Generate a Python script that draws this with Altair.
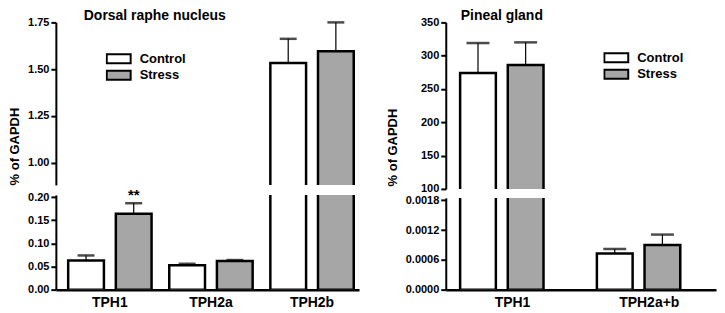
import altair as alt
import pandas as pd

FONT = "Liberation Sans"

# ---- data ----
groups = ["Control", "Stress"]
group_colors = ["white", "#a6a6a6"]

# Dorsal raphe nucleus
drn_genes = ["TPH1", "TPH2a", "TPH2b"]
drn_control = [0.063, 0.053, 1.533]
drn_control_err = [0.011, 0.003, 0.129]
drn_stress = [0.164, 0.062, 1.595]
drn_stress_err = [0.023, 0.002, 0.155]
drn_stress_sig = ["**", "", ""]

# Pineal gland
pin_genes = ["TPH1", "TPH2a+b"]
pin_control = [274, 0.00073]
pin_control_err = [45, 0.00009]
pin_stress = [286, 0.00090]
pin_stress_err = [34, 0.00021]
pin_stress_sig = ["", ""]

# axis breaks / ticks
drn_upper_ticks = [1.00, 1.25, 1.50, 1.75]
drn_lower_ticks = [0.00, 0.05, 0.10, 0.15, 0.20]
pin_upper_ticks = [100, 150, 200, 250, 300, 350]
pin_lower_ticks = [0.0, 0.0006, 0.0012, 0.0018]


def build(genes, c, ce, s, se, sig):
    rows = []
    for i, g in enumerate(genes):
        rows.append(dict(gene=g, group="Control", mean=c[i], top=c[i] + ce[i], sig=""))
        rows.append(dict(gene=g, group="Stress", mean=s[i], top=s[i] + se[i], sig=sig[i]))
    return pd.DataFrame(rows)


drn = build(drn_genes, drn_control, drn_control_err, drn_stress, drn_stress_err, drn_stress_sig)
pin = build(pin_genes, pin_control, pin_control_err, pin_stress, pin_stress_err, pin_stress_sig)


def segment(df, genes, lo, hi, ticks, fmt, w, h, cap, xpi, xpo, xal, opi, lower,
            ytitle=None, tx=0, ty=0, legend=None, title=None, title_dx=0, title_y=-13):
    if lower:
        xaxis = alt.Axis(title=None, labelAngle=0, ticks=False, labelPadding=6,
                         labelFontSize=14, labelFontWeight="bold", labelColor="black",
                         labelFont=FONT, domainColor="black", domainWidth=2.5)
    else:
        xaxis = None
    x = alt.X("gene:N", sort=genes, axis=xaxis,
              scale=alt.Scale(paddingInner=xpi, paddingOuter=xpo, align=xal))
    xo = alt.XOffset("group:N", sort=groups,
                     scale=alt.Scale(paddingInner=opi, paddingOuter=0))
    yscale = alt.Scale(domain=[lo, hi], zero=False, nice=False)
    ak = dict(values=ticks, format=fmt, grid=False, tickSize=5, tickWidth=2,
              tickColor="black", domainColor="black", domainWidth=2, labelPadding=2,
              labelFontSize=11, labelFontWeight="bold", labelColor="black", labelFont=FONT)
    if ytitle:
        ak.update(title=ytitle, titleX=tx, titleY=ty, titleAngle=270, titleAlign="center",
                  titleBaseline="middle", titleFontSize=13, titleFontWeight="bold",
                  titleFont=FONT, titleColor="black")
    else:
        ak.update(title=None)
    yaxis = alt.Axis(**ak)

    fill = alt.Fill("group:N", sort=groups,
                    scale=alt.Scale(domain=groups, range=group_colors), legend=legend)
    bars = alt.Chart(df).mark_bar(clip=True, stroke="black", strokeWidth=2.5).encode(
        x=x, xOffset=xo, y=alt.Y("mean:Q", scale=yscale, axis=yaxis), y2=alt.datum(0),
        fill=fill)
    filt = f"datum.top <= {hi}" if lower else f"datum.mean >= {lo}"
    rule = alt.Chart(df).transform_filter(filt).mark_rule(color="black", strokeWidth=1.2).encode(
        x=x, xOffset=xo, y=alt.Y("mean:Q", scale=yscale, axis=yaxis), y2="top:Q")
    tick = alt.Chart(df).transform_filter(filt).mark_tick(
        color="black", thickness=2.5, size=cap, orient="horizontal").encode(
        x=x, xOffset=xo, y=alt.Y("top:Q", scale=yscale, axis=yaxis))
    layers = [bars, rule, tick]
    if lower:
        sig = alt.Chart(df).transform_filter("datum.sig != ''").mark_text(
            dy=-3, baseline="alphabetic", fontSize=15, fontWeight="bold", font=FONT,
            color="black").encode(
            x=x, xOffset=xo, y=alt.Y("top:Q", scale=yscale, axis=yaxis), text="sig:N")
        layers.append(sig)
    if title:
        tt = alt.Chart(pd.DataFrame({"t": [title]})).mark_text(
            align="left", baseline="top", fontSize=14, fontWeight="bold",
            font=FONT, color="black").encode(
            x=alt.value(title_dx), y=alt.value(title_y), text="t:N")
        layers.append(tt)
    return alt.layer(*layers).properties(width=w, height=h)


def make_legend(lx, ly):
    return alt.Legend(orient="none", legendX=lx, legendY=ly, title=None,
                      symbolType="M-1,-0.375H1V0.375H-1Z", symbolSize=576,
                      symbolStrokeColor="black", symbolStrokeWidth=2, symbolOpacity=1,
                      clipHeight=13, rowPadding=2.5, labelOffset=8, labelFontSize=13,
                      labelFontWeight="bold", labelFont=FONT, labelColor="black", padding=0)


W1, W2 = 304, 271

drn_up = segment(drn, drn_genes, 0.88, 1.75, drn_upper_ticks, ".2f", W1, 163, 17,
                 0.175, 0.087, 0.7, 0.25, False,
                 ytitle="% of GAPDH", tx=-41, ty=124, legend=make_legend(50, 30),
                 title="Dorsal raphe nucleus", title_dx=28, title_y=-13)
drn_lo = segment(drn, drn_genes, 0.0, 0.205, drn_lower_ticks, ".2f", W1, 95, 17,
                 0.175, 0.087, 0.7, 0.25, True, legend=None)

pin_up = segment(pin, pin_genes, 100, 350, pin_upper_ticks, "d", W2, 167, 23,
                 0.234, 0.105, 0.5, 0.231, False,
                 ytitle="% of GAPDH", tx=-53, ty=125, legend=make_legend(158, 29),
                 title="Pineal gland", title_dx=15, title_y=-13)
pin_lo = segment(pin, pin_genes, 0.0, 0.00185, pin_lower_ticks, ".4f", W2, 92, 23,
                 0.234, 0.105, 0.5, 0.231, True, legend=None)

left = alt.vconcat(drn_up, drn_lo, spacing=10, bounds="flush").resolve_scale(fill="independent")
right = alt.vconcat(pin_up, pin_lo, spacing=9, bounds="flush").resolve_scale(fill="independent")

chart = (
    alt.hconcat(left, right, spacing=26)
    .resolve_scale(fill="independent")
    .properties(padding=0, background="white")
    .configure(font=FONT)
    .configure_view(stroke="transparent")
)

chart.save("out.html", embed_options={"renderer": "svg", "actions": False})
